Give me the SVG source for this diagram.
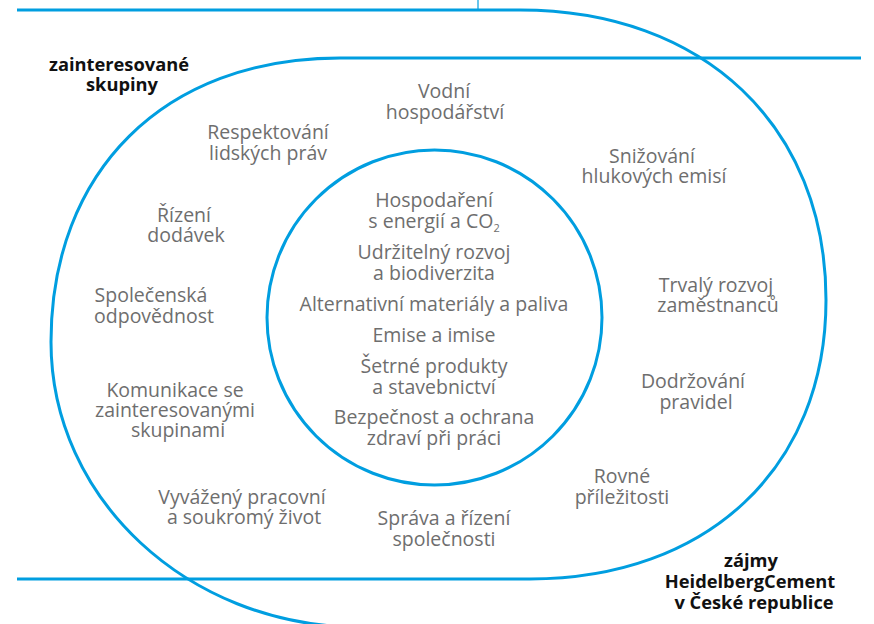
<svg xmlns="http://www.w3.org/2000/svg" width="874" height="624" viewBox="0 0 874 624">
<style>
.ln{fill:none;stroke:#009ee0;stroke-width:3}
.thin{fill:none;stroke:#009ee0;stroke-width:1.2}
.t{font-family:"Open Sans","Liberation Sans",sans-serif;font-size:19.5px;fill:#6e6e6e;text-anchor:middle}
.b{font-family:"Open Sans","Liberation Sans",sans-serif;font-size:18.3px;font-weight:bold;fill:#111;text-anchor:middle}
.sub{font-size:11px}
</style>
<rect width="874" height="624" fill="#fff"/>
<g id="shapes">
<line class="thin" x1="478" y1="0" x2="478" y2="10"/>
<path id="interests" class="ln" d="M17,10 H520 C703.6,10 826,126 826,300 C826,467.4 707.6,579 530,579 H17"/>
<path id="stakeholders" class="ln" d="M861,58 H340 C163.6,58 51,171.6 51,342 C51,499.3 188.3,625 355,627"/>
<circle id="core" class="ln" cx="434.5" cy="317.5" r="167.5"/>
</g>
<g id="connectors"></g>
<g id="label-stakeholders"><text class="b"><tspan x="119" y="71">zainteresované</tspan><tspan x="122" y="91">skupiny</tspan></text></g>
<g id="label-interests"><text class="b"><tspan x="751" y="567">zájmy</tspan><tspan x="750" y="588">HeidelbergCement</tspan><tspan x="754" y="609">v České republice</tspan></text></g>
<g id="core-energy"><text class="t"><tspan x="434" y="207">Hospodaření</tspan><tspan x="434" y="228">s energií a CO<tspan class="sub" dy="4">2</tspan></tspan></text></g>
<g id="core-biodiversity"><text class="t"><tspan x="434" y="259">Udržitelný rozvoj</tspan><tspan x="434" y="280">a biodiverzita</tspan></text></g>
<g id="core-materials"><text class="t" x="434" y="311">Alternativní materiály a paliva</text></g>
<g id="core-emissions"><text class="t" x="434" y="342">Emise a imise</text></g>
<g id="core-products"><text class="t"><tspan x="434" y="373">Šetrné produkty</tspan><tspan x="434" y="393.5">a stavebnictví</tspan></text></g>
<g id="core-safety"><text class="t"><tspan x="434" y="424">Bezpečnost a ochrana</tspan><tspan x="434" y="444.5">zdraví při práci</tspan></text></g>
<g id="water"><text class="t"><tspan x="444" y="98">Vodní</tspan><tspan x="445" y="119">hospodářství</tspan></text></g>
<g id="human-rights"><text class="t"><tspan x="268" y="139">Respektování</tspan><tspan x="268" y="160">lidských práv</tspan></text></g>
<g id="supply"><text class="t"><tspan x="184" y="222">Řízení</tspan><tspan x="186" y="242">dodávek</tspan></text></g>
<g id="responsibility"><text class="t"><tspan x="151" y="302">Společenská</tspan><tspan x="154" y="323">odpovědnost</tspan></text></g>
<g id="communication"><text class="t"><tspan x="175" y="397">Komunikace se</tspan><tspan x="175" y="417">zainteresovanými</tspan><tspan x="178" y="437">skupinami</tspan></text></g>
<g id="balance"><text class="t"><tspan x="242" y="504">Vyvážený pracovní</tspan><tspan x="244" y="524">a soukromý život</tspan></text></g>
<g id="governance"><text class="t"><tspan x="444" y="525">Správa a řízení</tspan><tspan x="444" y="546">společnosti</tspan></text></g>
<g id="opportunities"><text class="t"><tspan x="622" y="483">Rovné</tspan><tspan x="622" y="504">příležitosti</tspan></text></g>
<g id="compliance"><text class="t"><tspan x="693" y="388">Dodržování</tspan><tspan x="696" y="409">pravidel</tspan></text></g>
<g id="employees"><text class="t"><tspan x="716" y="292">Trvalý rozvoj</tspan><tspan x="718" y="312">zaměstnanců</tspan></text></g>
<g id="noise"><text class="t"><tspan x="652" y="163">Snižování</tspan><tspan x="654" y="183">hlukových emisí</tspan></text></g>
</svg>
